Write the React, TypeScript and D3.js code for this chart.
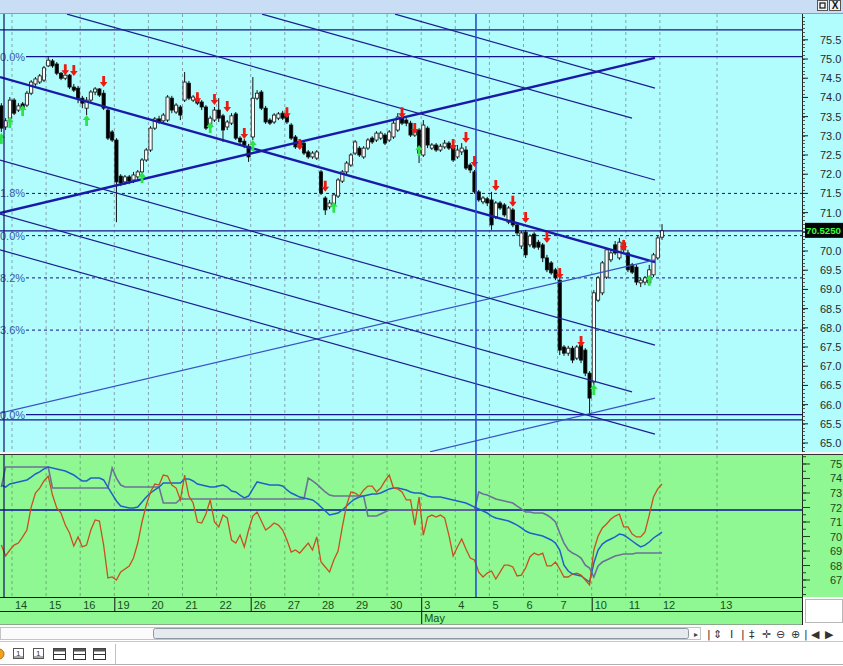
import React from "react";
import * as d3 from "d3";

// ---------- DATA ----------
// 156 hourly bars: 3 bars of the 13th, then 8 bars per session, last bar = first of the 12th
const opens = [
  73.78, 73.23, 73.46,
  73.93, 73.67, 73.83, 73.80, 74.11, 74.35, 74.40, 74.45,
  74.82, 74.95, 74.87, 74.63, 74.50, 74.58, 74.27, 74.24,
  73.98, 73.72, 73.93, 74.14, 74.22, 74.11, 73.67, 73.10,
  72.89, 71.95, 71.80, 71.93, 71.85, 71.93, 72.06, 72.37,
  72.63, 73.20, 73.44, 73.39, 73.41, 73.98, 73.62, 73.75,
  73.93, 74.37, 73.93, 73.96, 73.88, 73.75, 73.23, 73.41,
  73.67, 73.52, 73.23, 73.33, 73.57, 72.94, 72.86, 72.73,
  72.97, 73.98, 74.14, 73.72, 73.41, 73.36, 73.46, 73.59,
  73.52, 73.28, 72.97, 72.71, 72.81, 72.58, 72.45, 72.42,
  72.06, 71.38, 71.15, 71.20, 71.43, 71.82, 72.06, 72.24,
  72.55, 72.68, 72.45, 72.68, 72.94, 72.89, 72.94, 73.02,
  72.89, 72.97, 73.15, 73.46, 73.41, 73.33, 73.02, 73.15,
  72.50, 73.20, 72.68, 72.76, 72.63, 72.71, 72.81, 72.68,
  72.45, 72.58, 72.63, 72.24, 72.06, 71.54, 71.28, 71.36,
  71.33, 70.89, 71.25, 71.20, 70.75, 71.07, 70.68, 70.13,
  70.49, 70.16, 70.44, 70.23, 70.16, 69.82, 69.69, 69.51,
  69.24, 67.50, 67.34, 67.47, 67.21, 67.55, 67.42, 66.82,
  66.59, 68.72, 68.91, 69.32, 69.77, 70.16, 69.82, 70.03,
  69.95, 69.64, 69.58, 69.17, 69.19, 69.17, 69.38, 69.82,
  70.36,
];
const highs = [
  73.85, 73.46, 74.01,
  73.98, 73.85, 73.88, 74.17, 74.45, 74.53, 74.61, 74.82,
  75.06, 75.00, 74.92, 74.66, 74.63, 74.61, 74.35, 74.30,
  74.04, 74.01, 74.19, 74.27, 74.24, 74.19, 73.72, 73.15,
  72.94, 72.00, 71.98, 71.98, 72.06, 72.11, 72.42, 72.68,
  73.25, 73.49, 73.52, 73.59, 74.06, 74.04, 73.85, 73.80,
  74.66, 74.43, 74.06, 74.01, 73.93, 73.80, 73.52, 73.75,
  73.98, 73.57, 73.41, 73.59, 73.62, 72.99, 72.92, 72.79,
  74.53, 74.19, 74.19, 73.78, 73.46, 73.59, 73.62, 73.65,
  73.62, 73.33, 73.02, 72.86, 72.89, 72.63, 72.60, 72.63,
  72.11, 71.43, 71.33, 71.51, 71.90, 72.11, 72.34, 72.55,
  72.89, 72.73, 72.73, 72.94, 72.99, 73.12, 73.12, 73.07,
  73.15, 73.39, 73.59, 73.54, 73.46, 73.39, 73.20, 73.20,
  73.41, 73.25, 72.81, 72.81, 72.79, 72.89, 72.86, 72.73,
  72.76, 72.81, 72.73, 72.29, 72.11, 71.59, 71.43, 71.41,
  71.54, 71.30, 71.30, 71.25, 71.17, 71.12, 70.73, 70.52,
  70.55, 70.44, 70.49, 70.29, 70.21, 69.90, 69.74, 69.56,
  69.30, 67.55, 67.53, 67.53, 67.55, 67.60, 67.47, 66.87,
  68.98, 69.35, 69.74, 70.08, 70.03, 70.26, 70.34, 70.29,
  70.03, 69.69, 69.64, 69.30, 69.35, 69.64, 69.95, 70.39,
  70.70,
];
const lows = [
  73.10, 73.15, 73.41,
  73.54, 73.62, 73.67, 73.75, 74.06, 74.30, 74.35, 74.40,
  74.79, 74.77, 74.58, 74.45, 74.45, 74.22, 74.14, 73.85,
  73.72, 73.54, 73.88, 74.06, 74.01, 73.67, 72.89, 72.84,
  70.75, 71.69, 71.72, 71.74, 71.77, 71.85, 72.00, 72.32,
  72.58, 73.15, 73.31, 73.33, 73.36, 73.59, 73.57, 73.41,
  73.88, 73.93, 73.88, 73.80, 73.67, 73.15, 73.15, 73.36,
  73.36, 72.84, 73.15, 73.28, 72.89, 72.76, 72.68, 72.32,
  72.89, 73.93, 73.67, 73.31, 73.28, 73.31, 73.41, 73.41,
  73.31, 72.89, 72.66, 72.66, 72.50, 72.40, 72.40, 72.37,
  71.46, 70.94, 71.09, 71.15, 71.38, 71.77, 72.00, 72.19,
  72.50, 72.45, 72.40, 72.63, 72.79, 72.84, 72.89, 72.76,
  72.84, 72.92, 73.10, 73.28, 73.25, 72.97, 72.97, 72.29,
  72.45, 72.68, 72.63, 72.58, 72.58, 72.66, 72.63, 72.32,
  72.40, 72.50, 72.11, 72.03, 71.49, 71.28, 71.22, 71.17,
  70.55, 70.83, 71.07, 70.89, 70.70, 70.62, 70.39, 70.05,
  69.82, 70.10, 70.05, 70.03, 69.71, 69.45, 69.38, 69.24,
  67.29, 67.27, 67.27, 67.08, 67.16, 67.08, 66.74, 65.74,
  66.51, 68.67, 68.85, 69.27, 69.71, 69.90, 69.77, 69.97,
  69.45, 69.40, 69.11, 69.06, 69.11, 69.11, 69.32, 69.77,
  70.29,
];
const closes = [
  73.20, 73.39, 73.93,
  73.59, 73.78, 73.72, 74.11, 74.40, 74.48, 74.56, 74.77,
  74.97, 74.82, 74.63, 74.50, 74.58, 74.27, 74.19, 73.98,
  73.85, 73.93, 74.14, 74.22, 74.06, 73.72, 72.94, 72.89,
  71.80, 71.77, 71.93, 71.82, 71.98, 72.06, 72.37, 72.63,
  73.20, 73.44, 73.36, 73.54, 74.01, 73.67, 73.80, 73.54,
  74.40, 73.98, 74.01, 73.85, 73.75, 73.20, 73.46, 73.67,
  73.46, 73.15, 73.36, 73.52, 72.94, 72.84, 72.76, 72.45,
  73.98, 74.11, 73.72, 73.36, 73.33, 73.54, 73.57, 73.46,
  73.36, 72.94, 72.71, 72.81, 72.55, 72.45, 72.55, 72.58,
  71.51, 71.07, 71.25, 71.46, 71.85, 72.06, 72.29, 72.50,
  72.84, 72.50, 72.68, 72.89, 72.84, 73.07, 73.07, 72.81,
  73.10, 73.33, 73.49, 73.33, 73.33, 73.02, 73.15, 72.55,
  73.28, 72.76, 72.76, 72.63, 72.73, 72.81, 72.68, 72.37,
  72.63, 72.68, 72.16, 72.11, 71.54, 71.33, 71.38, 71.25,
  70.68, 71.25, 71.12, 70.94, 71.12, 70.68, 70.47, 70.47,
  69.90, 70.39, 70.10, 70.10, 69.82, 69.51, 69.43, 69.30,
  67.42, 67.34, 67.47, 67.16, 67.50, 67.16, 66.82, 66.17,
  68.91, 69.30, 69.69, 70.03, 69.95, 69.95, 70.23, 70.21,
  69.51, 69.45, 69.19, 69.24, 69.30, 69.51, 69.90, 70.34,
  70.525,
];

// lower pane series
const oscRed = [
  69.41, 68.66, 69.07,
  69.41, 69.55, 69.97, 70.45, 72.03, 73.00, 73.34, 73.83,
  74.17, 72.86, 71.97, 71.62, 70.79, 70.24, 69.34, 69.97,
  69.28, 69.41, 70.45, 71.14, 71.07, 69.41, 67.14, 67.21,
  67.00, 67.55, 67.76, 67.97, 68.52, 69.55, 71.00, 72.17,
  73.07, 73.62, 73.55, 74.24, 74.17, 73.55, 73.34, 72.52,
  74.24, 72.79, 72.31, 71.00, 70.93, 71.55, 72.52, 71.00,
  70.66, 71.48, 71.28, 69.76, 69.55, 70.10, 69.28, 70.45,
  71.41, 71.69, 71.07, 70.45, 70.66, 70.93, 70.79, 70.45,
  69.76, 68.93, 69.07, 68.86, 69.21, 69.55, 69.07, 69.97,
  68.24, 67.90, 67.55, 68.38, 69.00, 70.66, 72.17, 73.07,
  73.00, 72.79, 73.21, 73.48, 73.48, 73.07, 73.34, 73.83,
  74.24, 73.34, 73.28, 73.07, 72.52, 72.52, 70.79, 72.72,
  70.10, 71.34, 71.48, 71.34, 71.48, 71.28, 70.10, 68.66,
  69.28, 69.83, 69.14, 68.52, 68.38, 67.55, 67.21, 67.48,
  67.62, 67.07, 67.55, 68.03, 68.03, 67.90, 67.28, 67.34,
  67.83, 68.59, 68.86, 68.72, 68.86, 67.97, 67.97, 68.24,
  67.76, 67.21, 67.21, 67.41, 67.48, 67.34, 67.00, 66.66,
  69.07, 70.03, 70.59, 70.86, 71.21, 71.41, 71.55, 70.66,
  70.66, 70.17, 69.97, 69.97, 70.31, 71.48, 72.72, 73.28,
  73.62,
];
const avgBlue = [
  73.55, 73.41, 73.62,
  73.69, 73.76, 73.83, 73.90, 74.10, 74.31, 74.45, 74.66,
  74.79, 74.72, 74.66, 74.59, 74.52, 74.38, 74.24, 74.03,
  73.83, 73.83, 74.03, 74.03, 74.03, 73.90, 73.41, 72.93,
  72.45, 72.10, 72.03, 71.97, 71.97, 72.03, 72.38, 72.72,
  73.00, 73.21, 73.41, 73.69, 73.69, 73.69, 73.69, 73.69,
  73.97, 73.97, 73.83, 73.62, 73.55, 73.48, 73.41, 73.41,
  73.48, 73.55, 73.41, 73.14, 73.07, 72.86, 72.66, 72.79,
  73.28, 73.76, 73.69, 73.62, 73.55, 73.55, 73.55, 73.48,
  73.21, 73.00, 72.86, 72.72, 72.66, 72.59, 72.52, 72.31,
  72.03, 71.76, 71.48, 71.55, 71.62, 71.83, 72.10, 72.38,
  72.59, 72.72, 72.79, 72.86, 72.93, 72.93, 73.00, 73.14,
  73.28, 73.34, 73.34, 73.28, 73.21, 73.07, 73.00, 73.00,
  72.93, 72.79, 72.72, 72.72, 72.72, 72.66, 72.59, 72.52,
  72.45, 72.38, 72.31, 72.17, 72.03, 71.90, 71.76, 71.62,
  71.41, 71.28, 71.21, 71.14, 71.07, 70.93, 70.79, 70.59,
  70.38, 70.24, 70.17, 70.10, 70.03, 69.90, 69.76, 69.55,
  69.07, 68.03, 67.62, 67.41, 67.34, 67.28, 67.07, 66.86,
  68.17, 69.07, 69.48, 69.69, 69.83, 69.97, 70.17, 70.10,
  69.90, 69.69, 69.48, 69.28, 69.41, 69.62, 69.90, 70.10,
  70.31,
];
const stopStep = [
  73.41, 74.79, 74.79,
  74.79, 74.79, 74.79, 74.79, 74.79, 74.79, 74.79, 74.79,
  74.79, 73.34, 73.34, 73.34, 73.34, 73.34, 73.34, 73.34,
  73.34, 73.34, 73.34, 73.34, 73.34, 73.34, 73.34, 74.72,
  74.03, 73.55, 73.41, 73.41, 73.41, 73.41, 73.41, 73.41,
  73.41, 73.41, 73.41, 72.31, 72.31, 72.31, 72.31, 72.59,
  72.59, 72.59, 72.59, 72.59, 72.59, 72.59, 72.59, 72.59,
  72.59, 72.59, 72.59, 72.59, 72.59, 72.59, 72.59, 72.59,
  72.59, 72.59, 72.59, 72.59, 72.59, 72.59, 72.59, 72.59,
  72.59, 72.59, 72.59, 72.59, 72.59, 74.03, 73.83, 73.62,
  73.34, 73.07, 72.86, 72.79, 72.79, 72.79, 72.79, 72.79,
  72.79, 72.79, 72.79, 71.41, 71.41, 71.41, 71.55, 71.69,
  71.83, 71.83, 71.83, 71.83, 71.83, 71.83, 71.83, 71.83,
  71.83, 71.83, 71.83, 71.83, 71.83, 71.83, 71.83, 71.83,
  71.83, 71.83, 71.83, 71.83, 71.83, 73.07, 72.93, 72.86,
  72.72, 72.59, 72.52, 72.45, 72.38, 72.31, 72.10, 71.90,
  71.69, 71.69, 71.62, 71.62, 71.62, 71.48, 71.28, 71.00,
  70.24, 69.55, 69.07, 68.86, 68.72, 68.52, 68.03, 67.83,
  67.21, 67.97, 68.24, 68.38, 68.52, 68.66, 68.72, 68.79,
  68.79, 68.79, 68.86, 68.86, 68.86, 68.86, 68.86, 68.86,
  68.86,
];

// signals: bar index and the price at the arrow tip
const sellIdx = [15, 17, 24, 46, 50, 53, 57, 67, 70, 76, 94, 97, 106, 109, 111, 116, 120, 123, 128, 131, 136, 146];
const sellPrice = [74.58, 74.56, 74.27, 73.85, 73.80, 73.62, 72.92, 73.46, 72.63, 71.54, 73.46, 73.05, 72.63, 72.81, 72.19, 71.56, 71.15, 70.73, 70.21, 69.27, 67.50, 70.00];
const buyIdx = [0, 2, 5, 20, 33, 49, 59, 78, 98, 139, 152];
const buyPrice = [73.07, 73.49, 73.80, 73.54, 72.06, 73.36, 72.89, 71.28, 72.76, 66.54, 69.38];

// calendar (bar index of each session start; last one is the future session)
const dayLabels = ["14", "15", "16", "19", "20", "21", "22", "26", "27", "28", "29", "30", "3", "4", "5", "6", "7", "10", "11", "12", "13"];
const dayStarts = [2.5, 10.5, 18.5, 26.5, 34.5, 42.5, 50.5, 58.5, 66.5, 74.5, 82.5, 90.5, 98.5, 106.5, 114.5, 122.5, 130.5, 138.5, 146.5, 154.5, 167.9];
const weekStartDays = [3, 7, 12, 17];
const monthStartDay = 12;
const monthLabel = "May";

// Fibonacci retracement (labels as visible at the clipped left edge)
const fibLevels = [75.06, 71.50, 70.40, 69.30, 67.94, 65.74];
const fibLabels = ["0.0%", "1.8%", "0.0%", "8.2%", "3.6%", "0.0%"];
const fibDashed = [false, true, true, true, true, false];
const extraLevels = [75.76, 65.60];
const lastPrice = 70.525;
const lastPriceText = "70.5250";
const indicatorLevel = 71.83;
const cursorIdx = 111.35;

// trend / channel lines: [startIdx, startPrice, endIdx, endPrice]
const trendLines = [
  [-0.32, 74.53, 153.35, 69.71],
  [-0.32, 70.99, 153.35, 75.03],
  [-0.32, 65.78, 153.35, 69.77],
  [100.56, 64.77, 153.35, 66.17],
  [-0.32, 72.37, 153.35, 67.55],
  [-0.32, 70.96, 147.96, 66.33],
  [-0.32, 70.03, 153.35, 65.23],
  [15.4, 76.17, 153.35, 71.85],
  [61.15, 76.17, 147.96, 73.46],
  [92.35, 76.17, 153.35, 74.24],
];
const trendThick = [true, true, false, false, false, false, false, false, false, false];

const priceTicks = [65.0, 65.5, 66.0, 66.5, 67.0, 67.5, 68.0, 68.5, 69.0, 69.5, 70.0, 70.5, 71.0, 71.5, 72.0, 72.5, 73.0, 73.5, 74.0, 74.5, 75.0, 75.5];
const indTicks = [67, 68, 69, 70, 71, 72, 73, 74, 75];

// ---------- COMPONENT ----------
const FONT = "'Liberation Sans', Arial, sans-serif";
const CYAN = "#b1fdfd";
const GREEN = "#90f892";

export default function App() {
  const PR = 802;
  const x = d3.scaleLinear().domain([0, 155]).range([1.344, 662.03]);
  const y = d3.scaleLinear().domain([64.766, 76.172]).range([452, 14]);
  const yi = d3.scaleLinear().domain([65.83, 75.62]).range([597, 455]);

  const indLine = d3
    .line<number>()
    .x((_, i) => x(i))
    .y((v) => yi(v));

  const minorPrice = d3.range(64.8, 76.15, 0.1);
  const minorInd = d3.range(66.0, 75.6, 0.5);

  const bw = 3.2;

  return (
    <svg
      width={843}
      height={666}
      style={{ position: "absolute", left: 0, top: 0, display: "block", background: "#ffffff" }}
      fontFamily={FONT}
    >
      <defs>
        <clipPath id="mainClip">
          <rect x={0} y={14} width={PR} height={438} />
        </clipPath>
        <clipPath id="indClip">
          <rect x={0} y={455} width={PR} height={142} />
        </clipPath>
      </defs>

      {/* title strip */}
      <rect x={0} y={0} width={843} height={13} fill="#c9def4" />
      <line x1={0} x2={843} y1={13.5} y2={13.5} stroke="#8e9cab" />
      <rect x={817.5} y={0.5} width={10} height={10} fill="#f2f2f2" stroke="#555" />
      <rect x={820} y={3} width={5} height={5} fill="none" stroke="#111" strokeWidth={1.2} />
      <rect x={829.5} y={0.5} width={11} height={10} fill="#f2f2f2" stroke="#555" />
      <text x={835} y={9} fontSize={10} fontWeight="bold" textAnchor="middle" fill="#111">X</text>

      {/* main panel */}
      <rect x={0} y={14} width={843} height={438} fill={CYAN} />
      <g clipPath="url(#mainClip)">
        {dayStarts.map((d, k) => (
          <line key={"g" + k} x1={x(d)} x2={x(d)} y1={14} y2={452} stroke="#7e9aa6" strokeDasharray="3,3" strokeWidth={0.9} />
        ))}
        {extraLevels.map((v, k) => (
          <line key={"e" + k} x1={0} x2={PR} y1={y(v)} y2={y(v)} stroke="#12128c" strokeWidth={1.3} />
        ))}
        {fibLevels.map((v, k) => (
          <line
            key={"f" + k}
            x1={26}
            x2={PR}
            y1={y(v)}
            y2={y(v)}
            stroke="#14148a"
            strokeWidth={fibDashed[k] ? 1 : 1.3}
            strokeDasharray={fibDashed[k] ? "3,3" : undefined}
          />
        ))}
        <line x1={0} x2={PR} y1={y(lastPrice)} y2={y(lastPrice)} stroke="#14148a" strokeWidth={1.3} />

        {/* candles */}
        {closes.map((c, i) => {
          const o = opens[i];
          const up = c >= o;
          const top = y(Math.max(o, c));
          const bot = y(Math.min(o, c));
          return (
            <g key={"c" + i}>
              <line x1={x(i)} x2={x(i)} y1={y(highs[i])} y2={y(lows[i])} stroke="#111" strokeWidth={1} />
              <rect
                x={x(i) - bw / 2}
                y={top}
                width={bw}
                height={Math.max(1, bot - top)}
                fill={up ? "#ffffff" : "#000000"}
                stroke="#111"
                strokeWidth={0.8}
              />
            </g>
          );
        })}

        {/* trend lines */}
        {trendLines.map((t, k) => (
          <line
            key={"t" + k}
            x1={x(t[0])}
            y1={y(t[1])}
            x2={x(t[2])}
            y2={y(t[3])}
            stroke={trendThick[k] ? "#1a1aa8" : k === 2 || k === 3 ? "#3a52c4" : "#1c2090"}
            strokeWidth={trendThick[k] ? 2.4 : 1.2}
          />
        ))}

        {/* signals */}
        {sellIdx.map((idx, k) => {
          const cx = x(idx);
          const tip = y(sellPrice[k]);
          return (
            <path
              key={"s" + k}
              d={`M${cx - 1.4},${tip - 11} L${cx + 1.4},${tip - 11} L${cx + 1.4},${tip - 5} L${cx + 3.8},${tip - 5} L${cx},${tip} L${cx - 3.8},${tip - 5} L${cx - 1.4},${tip - 5} Z`}
              fill="#ee1a12"
            />
          );
        })}
        {buyIdx.map((idx, k) => {
          const cx = x(idx);
          const tip = y(buyPrice[k]);
          return (
            <path
              key={"b" + k}
              d={`M${cx - 1.4},${tip + 11} L${cx + 1.4},${tip + 11} L${cx + 1.4},${tip + 5} L${cx + 3.8},${tip + 5} L${cx},${tip} L${cx - 3.8},${tip + 5} L${cx - 1.4},${tip + 5} Z`}
              fill="#2ee24a"
            />
          );
        })}
      </g>
      {fibLabels.map((t, k) => (
        <text key={"fl" + k} x={0} y={y(fibLevels[k]) + 4} fontSize={11} fill="#3b5aa6">
          {t}
        </text>
      ))}
      <line x1={4} x2={4} y1={14} y2={452} stroke="#101060" strokeWidth={1.2} />

      {/* price axis */}
      <line x1={PR + 0.5} x2={PR + 0.5} y1={14} y2={452} stroke="#222" />
      {minorPrice.map((v, k) => (
        <line key={"mp" + k} x1={PR} x2={PR + 3} y1={Math.round(y(v)) + 0.5} y2={Math.round(y(v)) + 0.5} stroke="#333" strokeWidth={0.8} />
      ))}
      {priceTicks.map((v, k) => (
        <g key={"pt" + k}>
          <line x1={PR} x2={PR + 6} y1={y(v)} y2={y(v)} stroke="#222" />
          {Math.abs(v - lastPrice) > 0.2 && (
            <text x={820} y={y(v) + 4} fontSize={11} fill="#2a2a2a">
              {v.toFixed(1)}
            </text>
          )}
        </g>
      ))}
      <rect x={805} y={y(lastPrice) - 8} width={38} height={15} fill="#050505" />
      <text x={806} y={y(lastPrice) + 3.5} fontSize={9.5} fontWeight="bold" fill="#3dfc3d" textLength={35} lengthAdjust="spacingAndGlyphs">
        {lastPriceText}
      </text>

      {/* separator */}
      <rect x={0} y={452} width={843} height={3} fill="#f4f4f4" />
      <line x1={0} x2={843} y1={454.5} y2={454.5} stroke="#333" />

      {/* indicator panel */}
      <rect x={0} y={455} width={843} height={142} fill={GREEN} />
      <g clipPath="url(#indClip)">
        {dayStarts.map((d, k) => (
          <line key={"gi" + k} x1={x(d)} x2={x(d)} y1={455} y2={597} stroke="#6ea07a" strokeDasharray="3,3" strokeWidth={0.9} />
        ))}
        <line x1={0} x2={PR} y1={yi(indicatorLevel)} y2={yi(indicatorLevel)} stroke="#10109a" strokeWidth={1.4} />
        <path d={indLine(stopStep) || ""} fill="none" stroke="#6a7296" strokeWidth={1.6} />
        <path d={indLine(avgBlue) || ""} fill="none" stroke="#2060c8" strokeWidth={1.5} />
        <path d={indLine(oscRed) || ""} fill="none" stroke="#c8501e" strokeWidth={1.3} />
      </g>
      <line x1={4} x2={4} y1={455} y2={597} stroke="#101060" strokeWidth={1.2} />
      <line x1={x(cursorIdx)} x2={x(cursorIdx)} y1={14} y2={597} stroke="#2a4fd0" strokeWidth={1.6} />

      {/* indicator axis */}
      <line x1={PR + 0.5} x2={PR + 0.5} y1={455} y2={597} stroke="#222" />
      {minorInd.map((v, k) => (
        <line key={"mi" + k} x1={PR} x2={PR + 4} y1={yi(v)} y2={yi(v)} stroke="#224422" />
      ))}
      {indTicks.map((v, k) => (
        <g key={"it" + k}>
          <line x1={PR} x2={PR + 8} y1={yi(v)} y2={yi(v)} stroke="#224422" />
          <text x={830} y={yi(v) + 4} fontSize={11} fill="#1c4a1c">
            {v}
          </text>
        </g>
      ))}

      {/* date axis */}
      <rect x={0} y={597} width={PR} height={28} fill={GREEN} />
      <line x1={0} x2={PR} y1={597.5} y2={597.5} stroke="#111" />
      <line x1={0} x2={PR} y1={611.5} y2={611.5} stroke="#111" />
      <line x1={0} x2={PR} y1={624.5} y2={624.5} stroke="#8aa88a" />
      <line x1={PR + 0.5} x2={PR + 0.5} y1={597} y2={625} stroke="#222" />
      {weekStartDays.map((k) => (
        <line
          key={"ws" + k}
          x1={x(dayStarts[k]) + 0.5}
          x2={x(dayStarts[k]) + 0.5}
          y1={597}
          y2={k === monthStartDay ? 624 : 611}
          stroke="#111"
        />
      ))}
      {dayLabels.map((t, k) => (
        <text key={"dl" + k} x={x(dayStarts[k]) + 3} y={609} fontSize={11} fill="#15501a">
          {t}
        </text>
      ))}
      <text x={x(dayStarts[monthStartDay]) + 3} y={622} fontSize={11} fill="#15501a">
        {monthLabel}
      </text>
      <rect x={805.5} y={599.5} width={37} height={23} fill="#ffffff" stroke="#b8b8b8" />

      {/* scrollbar row */}
      <rect x={0} y={625} width={843} height={41} fill="#ffffff" />
      <rect x={0.5} y={627.5} width={700} height={12} fill="#fbfbfb" stroke="#c4c4c4" />
      <rect x={153.5} y={628.5} width={535} height={10} rx={2} fill="#e6eaee" stroke="#8e98a2" />
      <text x={694} y={637} fontSize={8} fill="#444" fontFamily="DejaVu Sans">▸</text>
      {[
        ["|", 707],
        ["⇕", 713],
        ["I", 730],
        ["|", 741],
        ["‡", 749],
        ["✛", 762],
        ["⊖", 776],
        ["⊕", 791],
        ["|", 804],
        ["◀", 811],
        ["▶", 825],
      ].map(([g, px], k) => (
        <text key={"tb" + k} x={px as number} y={638} fontSize={11} fill="#333" fontFamily="DejaVu Sans">
          {g as string}
        </text>
      ))}
      <line x1={0} x2={843} y1={641.5} y2={641.5} stroke="#c8c8c8" />

      {/* bottom toolbar */}
      <circle cx={-1} cy={654} r={5} fill="#f0a21e" stroke="#b07010" />
      {[13, 33].map((px, k) => (
        <g key={"ic" + k}>
          <rect x={px + 0.5} y={648.5} width={10} height={10} fill="#fff" stroke="#555" />
          <text x={px + 3} y={656} fontSize={8} fill="#333">1</text>
          <line x1={px + 1} x2={px + 10} y1={657} y2={657} stroke="#555" />
        </g>
      ))}
      {[53, 73, 93].map((px, k) => (
        <g key={"iw" + k}>
          <rect x={px + 0.5} y={648.5} width={12} height={11} fill="#fff" stroke="#333" />
          <rect x={px + 0.5} y={648.5} width={12} height={3} fill="#555" />
          <line x1={px + 1} x2={px + 12} y1={654.5} y2={654.5} stroke="#333" />
        </g>
      ))}
      <line x1={115.5} x2={115.5} y1={644} y2={664} stroke="#c0c0c0" />
      <line x1={0} x2={843} y1={664.5} y2={664.5} stroke="#b0b0b0" />
    </svg>
  );
}
